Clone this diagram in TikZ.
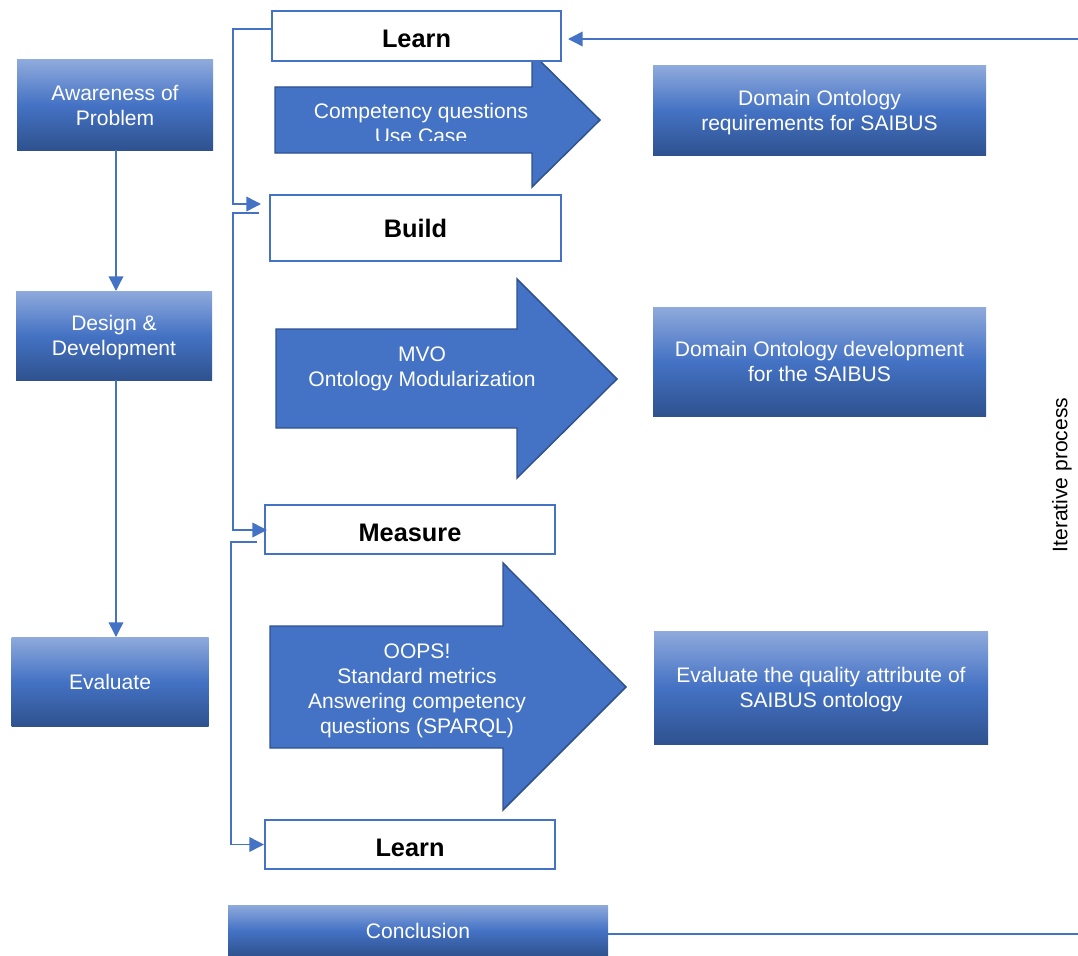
\documentclass[tikz,border=0pt]{standalone}
\usepackage{fontspec}
\setmainfont{Liberation Sans}
\usetikzlibrary{arrows.meta,calc}
\definecolor{accent}{HTML}{4472C4}
\definecolor{accentdark}{HTML}{2F528F}
\definecolor{accentlight}{HTML}{8FAADC}
\begin{document}
\begin{tikzpicture}[x=0.75pt,y=-0.75pt,
  txt/.style={font=\fontsize{15.8pt}{18.75pt}\selectfont},
  grad/.style={txt, text=white, align=center, inner sep=0pt, text depth=0pt,
    top color=accentlight, bottom color=accentdark, middle color=accent},
  stage/.style={draw=accent, line width=1.5pt, fill=white, inner sep=0pt,
    text height=17.4pt, text depth=0pt,
    font=\fontsize{19pt}{22pt}\selectfont\bfseries},
  conn/.style={draw=accent, line width=1.1pt, -{Triangle[length=11pt,width=11pt]}},
  plain/.style={draw=accent, line width=1.1pt},
  block/.style={fill=accent, draw=accentdark, line width=1.1pt, line join=miter},
  inner/.style={txt, text=white, align=center, inner sep=0pt, text depth=0pt}
]
\useasboundingbox (0,0) rectangle (1078,956);

% block arrows
\draw[block] (275,87) -- (532,87) -- (532,53) -- (600,120) -- (532,187) -- (532,153) -- (275,153) -- cycle;
\draw[block] (276,329) -- (517,329) -- (517,279) -- (617,379) -- (517,478) -- (517,428) -- (276,428) -- cycle;
\draw[block] (270,626) -- (503,626) -- (503,563) -- (626,687) -- (503,810) -- (503,748) -- (270,748) -- cycle;

\begin{scope}
  \clip (270,80) rectangle (540,140);
  \node[inner] (q1) at (421,123.5) {Competency questions\\Use Case};
\end{scope}
\node[inner] (q2) at (422,366.5) {MVO\\Ontology Modularization};
\node[inner] (q3) at (417,688.5) {OOPS!\\Standard metrics\\Answering competency\\questions (SPARQL)};

% left column
\node[grad, minimum width=147pt, minimum height=67.5pt] (aware) at (115,105) {Awareness of\\Problem};
\node[grad, minimum width=147pt, minimum height=66.75pt] (design) at (114,335.5) {Design \&\\Development};
\node[grad, minimum width=147.75pt, minimum height=66.75pt] (eval) at (110,681.5) {Evaluate};

% right column
\node[grad, minimum width=249.75pt, minimum height=66.75pt] (req) at (819.5,110.5) {Domain Ontology\\requirements for SAIBUS};
\node[grad, minimum width=249.75pt, minimum height=81.75pt] (dev) at (819.5,361.5) {Domain Ontology development\\for the SAIBUS};
\node[grad, minimum width=250.5pt, minimum height=84.75pt] (qual) at (821,687.5) {Evaluate the quality attribute of\\SAIBUS ontology};

\node[grad, minimum width=285pt, minimum height=38.25pt] (concl) at (418,930.5) {Conclusion};

% stage boxes
\node[stage, minimum width=216.75pt, minimum height=37.5pt] (learnA) at (416.5,36) {Learn};
\node[stage, text height=14pt, minimum width=218.25pt, minimum height=49.5pt] (build) at (415.5,228) {Build};
\node[stage, minimum width=217.5pt, minimum height=36.75pt] (measure) at (410,529.5) {Measure};
\node[stage, minimum width=217.5pt, minimum height=36.75pt] (learnB) at (410,844.5) {Learn};

\node[txt, rotate=90, inner sep=0pt] (iter) at (1062,475) {Iterative process};

% connectors
\coordinate (inR) at (1078,39);
\coordinate (outR) at (1078,934);
\draw[conn] (aware.south -| 116,0) -- (116,291);
\draw[conn] (design.south -| 116,0) -- (116,637);
\draw[conn] ($(learnA.west)+(0,-7)$) -- ++(-38,0) |- ($(build.west)+(-8,-24)$);
\draw[conn] ($(build.west)+(-10,-15)$) -- ++(-26,0) |- ($(measure.west)+(3,0.5)$);
\draw[conn] ($(measure.west)+(-7,12.5)$) -- ++(-26,0) |- (learnB.west);
\draw[conn] (inR) -- ($(learnA.east)+(6,3)$);
\draw[plain] ($(concl.east)+(0,3.5)$) -- (outR);
\end{tikzpicture}
\end{document}
